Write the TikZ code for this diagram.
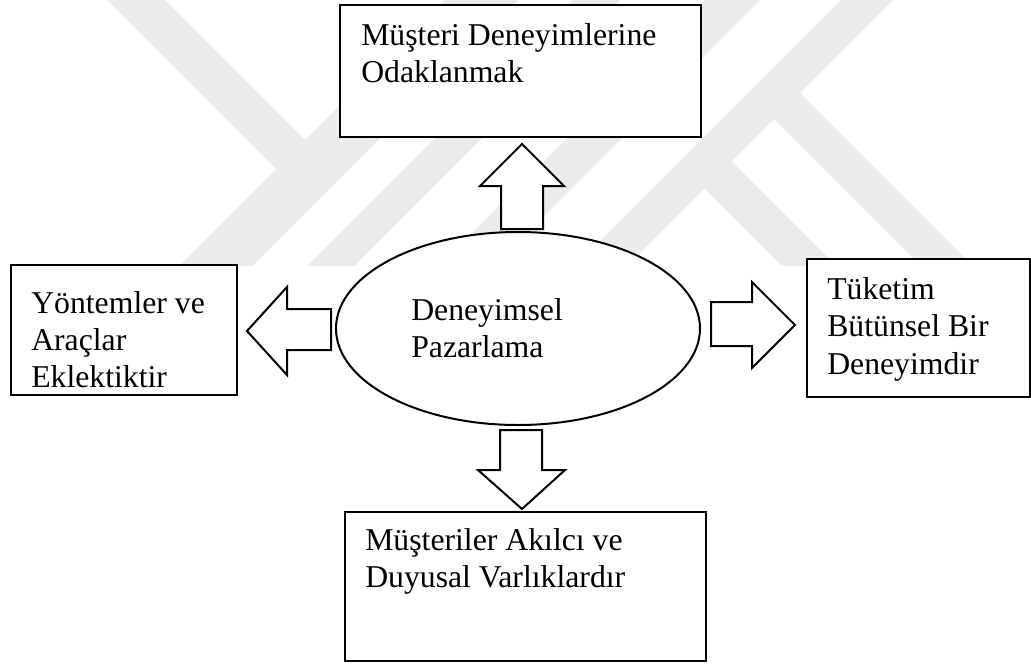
\documentclass[tikz,border=0pt]{standalone}
\usepackage{fontspec}
\setmainfont{Liberation Serif}
\usetikzlibrary{shapes.geometric}
\begin{document}
\begin{tikzpicture}[x=0.75pt,y=-0.75pt,
  box/.style={draw=black, line width=0.8pt, fill=white, rectangle, inner sep=0pt},
  oval/.style={draw=black, line width=1.5pt, fill=white, ellipse, inner sep=0pt},
  lbl/.style={anchor=north west, inner sep=0pt, align=left, font=\fontsize{23.8pt}{28pt}\selectfont},
  blk/.style={draw=black, line width=1.5pt, fill=white, line join=miter},
  wm/.style={fill=black!8, draw=none}]

\useasboundingbox (0,0) rectangle (1031,664);
\fill[white] (0,0) rectangle (1031,664);

% faint watermark bands
\begin{scope}
  \clip (0,-5) rectangle (1031,265);
  \fill[wm] (102,-5) -- (160,-5) -- (306,141) -- (276,169) -- cycle;
  \fill[wm] (175,270) -- (248,270) -- (523,-5) -- (450,-5) -- cycle;
  \fill[wm] (303,270) -- (350,270) -- (625,-5) -- (578,-5) -- cycle;
  \fill[wm] (435,270) -- (490,270) -- (765,-5) -- (710,-5) -- cycle;
  \fill[wm] (571,270) -- (623,270) -- (898,-5) -- (846,-5) -- cycle;
  \fill[wm] (796,89) -- (990,283) -- (938,283) -- (770,115) -- cycle;
  \fill[wm] (727.5,157.5) -- (853,283) -- (799,283) -- (700.5,184.5) -- cycle;
\end{scope}

% boxes
\node[box, minimum width=270.75pt, minimum height=99pt] (top) at (520.5,71) {};
\node[box, minimum width=169.5pt, minimum height=97.5pt] (left) at (124,330) {};
\node[box, minimum width=167.25pt, minimum height=103.5pt] (right) at (918.5,328) {};
\node[box, minimum width=270.75pt, minimum height=111.75pt] (bottom) at (525.5,586.5) {};
\node[oval, minimum width=273pt, minimum height=144.75pt] (center) at (518,328.5) {};

% texts
\node[lbl] (ttop) at (361,18.9) {\strut Müşteri Deneyimlerine\\\strut Odaklanmak};
\node[lbl] (tleft) at (31,286.6) {\strut Yöntemler ve\\\strut Araçlar\\\strut Eklektiktir};
\node[lbl] (tcenter) at (411,293.9) {\strut Deneyimsel\\\strut Pazarlama};
\node[lbl] (tright) at (827,273.2) {\strut Tüketim\\\strut Bütünsel Bir\\\strut Deneyimdir};
\node[lbl] (tbottom) at (365,523.9) {\strut Müşteriler Akılcı ve\\\strut Duyusal Varlıklardır};

% block arrows
\draw[blk] (501,229) -- (501,186) -- (480,186) -- (522,144) -- (564,186) -- (543,186) -- (543,229) -- cycle;
\draw[blk] (500,430) -- (542,430) -- (542,470) -- (565,470) -- (522,509) -- (478,470) -- (500,470) -- cycle;
\draw[blk] (331,309) -- (287,309) -- (287,287) -- (247,331) -- (287,375) -- (287,350) -- (331,350) -- cycle;
\draw[blk] (711,302) -- (752,302) -- (752,282) -- (795,325) -- (752,368) -- (752,346) -- (711,346) -- cycle;
\end{tikzpicture}
\end{document}
